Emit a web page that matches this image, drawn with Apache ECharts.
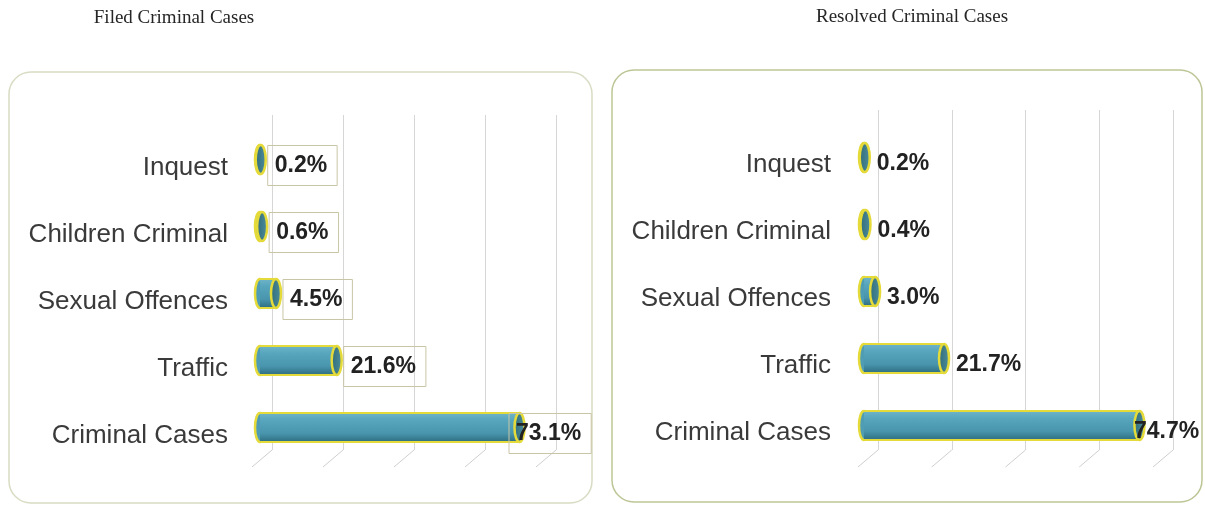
<!DOCTYPE html>
<html>
<head>
<meta charset="utf-8">
<script src="https://cdn.jsdelivr.net/npm/echarts@6/dist/echarts.min.js"></script>
<style>
  html, body { margin: 0; padding: 0; background: #ffffff; }
  #chart { width: 1205px; height: 506px; }
</style>
</head>
<body>
<div id="chart"></div>
<script>
// Share of each case type (percent), top row first
const categories = ['Inquest', 'Children Criminal', 'Sexual Offences', 'Traffic', 'Criminal Cases'];
const filedShare = [0.2, 0.6, 4.5, 21.6, 73.1];
const resolvedShare = [0.2, 0.4, 3.0, 21.7, 74.7];
const gridTicks = [0, 20, 40, 60, 80];
const titles = ['Filed Criminal Cases', 'Resolved Criminal Cases'];

const BAR_H = 29;
const CAP_RX = 5;
const YELLOW = '#e4da3a';

// Cylinder-shaped horizontal bar with an outside value label.
// The bar sits slightly above its category row (3-D depth), the label near the row centre.
function cylinderRenderer(opt) {
  return function (params, api) {
    const v = api.value(0);
    const idx = api.value(1);
    const s = api.coord([0, idx]);
    const e = api.coord([v, idx]);
    const cs = params.coordSys;
    const cy = s[1] + opt.barShift;
    const y0 = cy - BAR_H / 2;
    const y1 = cy + BAR_H / 2;
    const len = Math.max(e[0] - s[0], 0);
    const leftCap = {
      type: 'ellipse',
      shape: { cx: s[0], cy: cy, rx: CAP_RX, ry: BAR_H / 2 },
      style: { fill: '#4f9db5', stroke: YELLOW, lineWidth: 2.5 }
    };
    const body = {
      type: 'rect',
      shape: { x: s[0], y: y0, width: len, height: BAR_H },
      style: {
        fill: new echarts.graphic.LinearGradient(0, 0, 0, 1, [
          { offset: 0, color: '#6fb4c8' },
          { offset: 0.25, color: '#57a6bd' },
          { offset: 0.7, color: '#4895ad' },
          { offset: 1, color: '#2f6d80' }
        ])
      }
    };
    const topEdge = {
      type: 'line',
      shape: { x1: s[0], y1: y0, x2: e[0], y2: y0 },
      style: { stroke: YELLOW, lineWidth: 2 }
    };
    const bottomEdge = {
      type: 'line',
      shape: { x1: s[0], y1: y1, x2: e[0], y2: y1 },
      style: { stroke: YELLOW, lineWidth: 2 }
    };
    const rightCap = {
      type: 'ellipse',
      shape: { cx: e[0], cy: cy, rx: CAP_RX, ry: BAR_H / 2 },
      style: {
        fill: new echarts.graphic.LinearGradient(0, 0, 1, 0, [
          { offset: 0, color: '#2f6a78' },
          { offset: 1, color: '#4f8f9e' }
        ]),
        stroke: YELLOW,
        lineWidth: 2.5
      }
    };
    let lx = e[0] + CAP_RX + (opt.boxed ? 2 : 7);
    lx = Math.min(lx, cs.x + cs.width - opt.clamp);
    const labelStyle = {
      text: v.toFixed(1) + '%',
      x: lx,
      y: s[1] + opt.labelShift,
      textAlign: 'left',
      textVerticalAlign: 'middle',
      fill: '#222222',
      font: 'bold 23px "Liberation Sans", Arial, sans-serif'
    };
    if (opt.boxed) {
      labelStyle.borderColor = '#c9c6a6';
      labelStyle.borderWidth = 1;
      labelStyle.padding = [9, 10, 8, 7];
    }
    return {
      type: 'group',
      children: [leftCap, body, topEdge, bottomEdge, rightCap, { type: 'text', style: labelStyle }]
    };
  };
}

// Vertical gridlines with a short slanted foot, as on a 3-D floor
function floorRenderer(params, api) {
  const p = api.coord([api.value(0), 0]);
  return {
    type: 'line',
    shape: { x1: p[0], y1: p[1], x2: p[0] - 20, y2: p[1] + 17 },
    style: { stroke: '#cfcfcf', lineWidth: 1 }
  };
}

const panels = [
  { values: filedShare, barLeft: 260, barTop: 134, wallLeft: 272, wallTop: 115, wallH: 335, width: 284, labelGap: 32,
    render: { boxed: true, clamp: 35, barShift: -8, labelShift: -2 } },
  { values: resolvedShare, barLeft: 864, barTop: 131, wallLeft: 878, wallTop: 110, wallH: 340, width: 295, labelGap: 33,
    render: { boxed: false, clamp: 25, barShift: -7, labelShift: -1 } }
];

const grid = [], xAxis = [], yAxis = [], series = [];
panels.forEach(function (p) {
  const gBar = grid.length;
  grid.push({ left: p.barLeft, top: p.barTop, width: p.width, height: 335 });
  grid.push({ left: p.wallLeft, top: p.wallTop, width: p.width, height: p.wallH });
  // bars
  xAxis.push({ gridIndex: gBar, type: 'value', min: 0, max: 80, interval: 20, show: false });
  yAxis.push({
    gridIndex: gBar, type: 'category', data: categories, inverse: true,
    axisLine: { show: false }, axisTick: { show: false }, splitLine: { show: false },
    axisLabel: { margin: p.labelGap, fontSize: 26, color: '#3a3a3a', fontFamily: '"Liberation Sans", Arial, sans-serif' }
  });
  // back wall gridlines
  xAxis.push({
    gridIndex: gBar + 1, type: 'value', min: 0, max: 80, interval: 20,
    axisLine: { show: false }, axisTick: { show: false }, axisLabel: { show: false },
    splitLine: { show: true, lineStyle: { color: '#d6d6d6', width: 1 } }
  });
  yAxis.push({ gridIndex: gBar + 1, type: 'value', min: 0, max: 1, show: false });
  series.push({
    type: 'custom', xAxisIndex: gBar + 1, yAxisIndex: gBar + 1, clip: false, silent: true, z: 1,
    renderItem: floorRenderer,
    data: gridTicks.map(function (t) { return [t]; })
  });
  series.push({
    type: 'custom', xAxisIndex: gBar, yAxisIndex: gBar, clip: false, z: 3,
    renderItem: cylinderRenderer(p.render),
    encode: { x: 0, y: 1 },
    data: p.values.map(function (v, i) { return [v, i]; })
  });
});

const chart = echarts.init(document.getElementById('chart'), null, { renderer: 'canvas' });
chart.setOption({
  animation: false,
  backgroundColor: '#ffffff',
  title: [
    { text: titles[0], left: 169, top: 4, textAlign: 'center',
      textStyle: { fontFamily: '"Liberation Serif", "Times New Roman", serif', fontSize: 19, fontWeight: 'normal', color: '#262626' } },
    { text: titles[1], left: 907, top: 3, textAlign: 'center',
      textStyle: { fontFamily: '"Liberation Serif", "Times New Roman", serif', fontSize: 19, fontWeight: 'normal', color: '#262626' } }
  ],
  graphic: [
    { type: 'rect', z: -1, shape: { x: 9, y: 72, width: 583, height: 431, r: 22 },
      style: { fill: 'none', stroke: '#d9dcc4', lineWidth: 1.5 } },
    { type: 'rect', z: -1, shape: { x: 612, y: 70, width: 590, height: 432, r: 22 },
      style: { fill: 'none', stroke: '#bcc696', lineWidth: 1.5 } }
  ],
  grid: grid,
  xAxis: xAxis,
  yAxis: yAxis,
  series: series
});
</script>
</body>
</html>
